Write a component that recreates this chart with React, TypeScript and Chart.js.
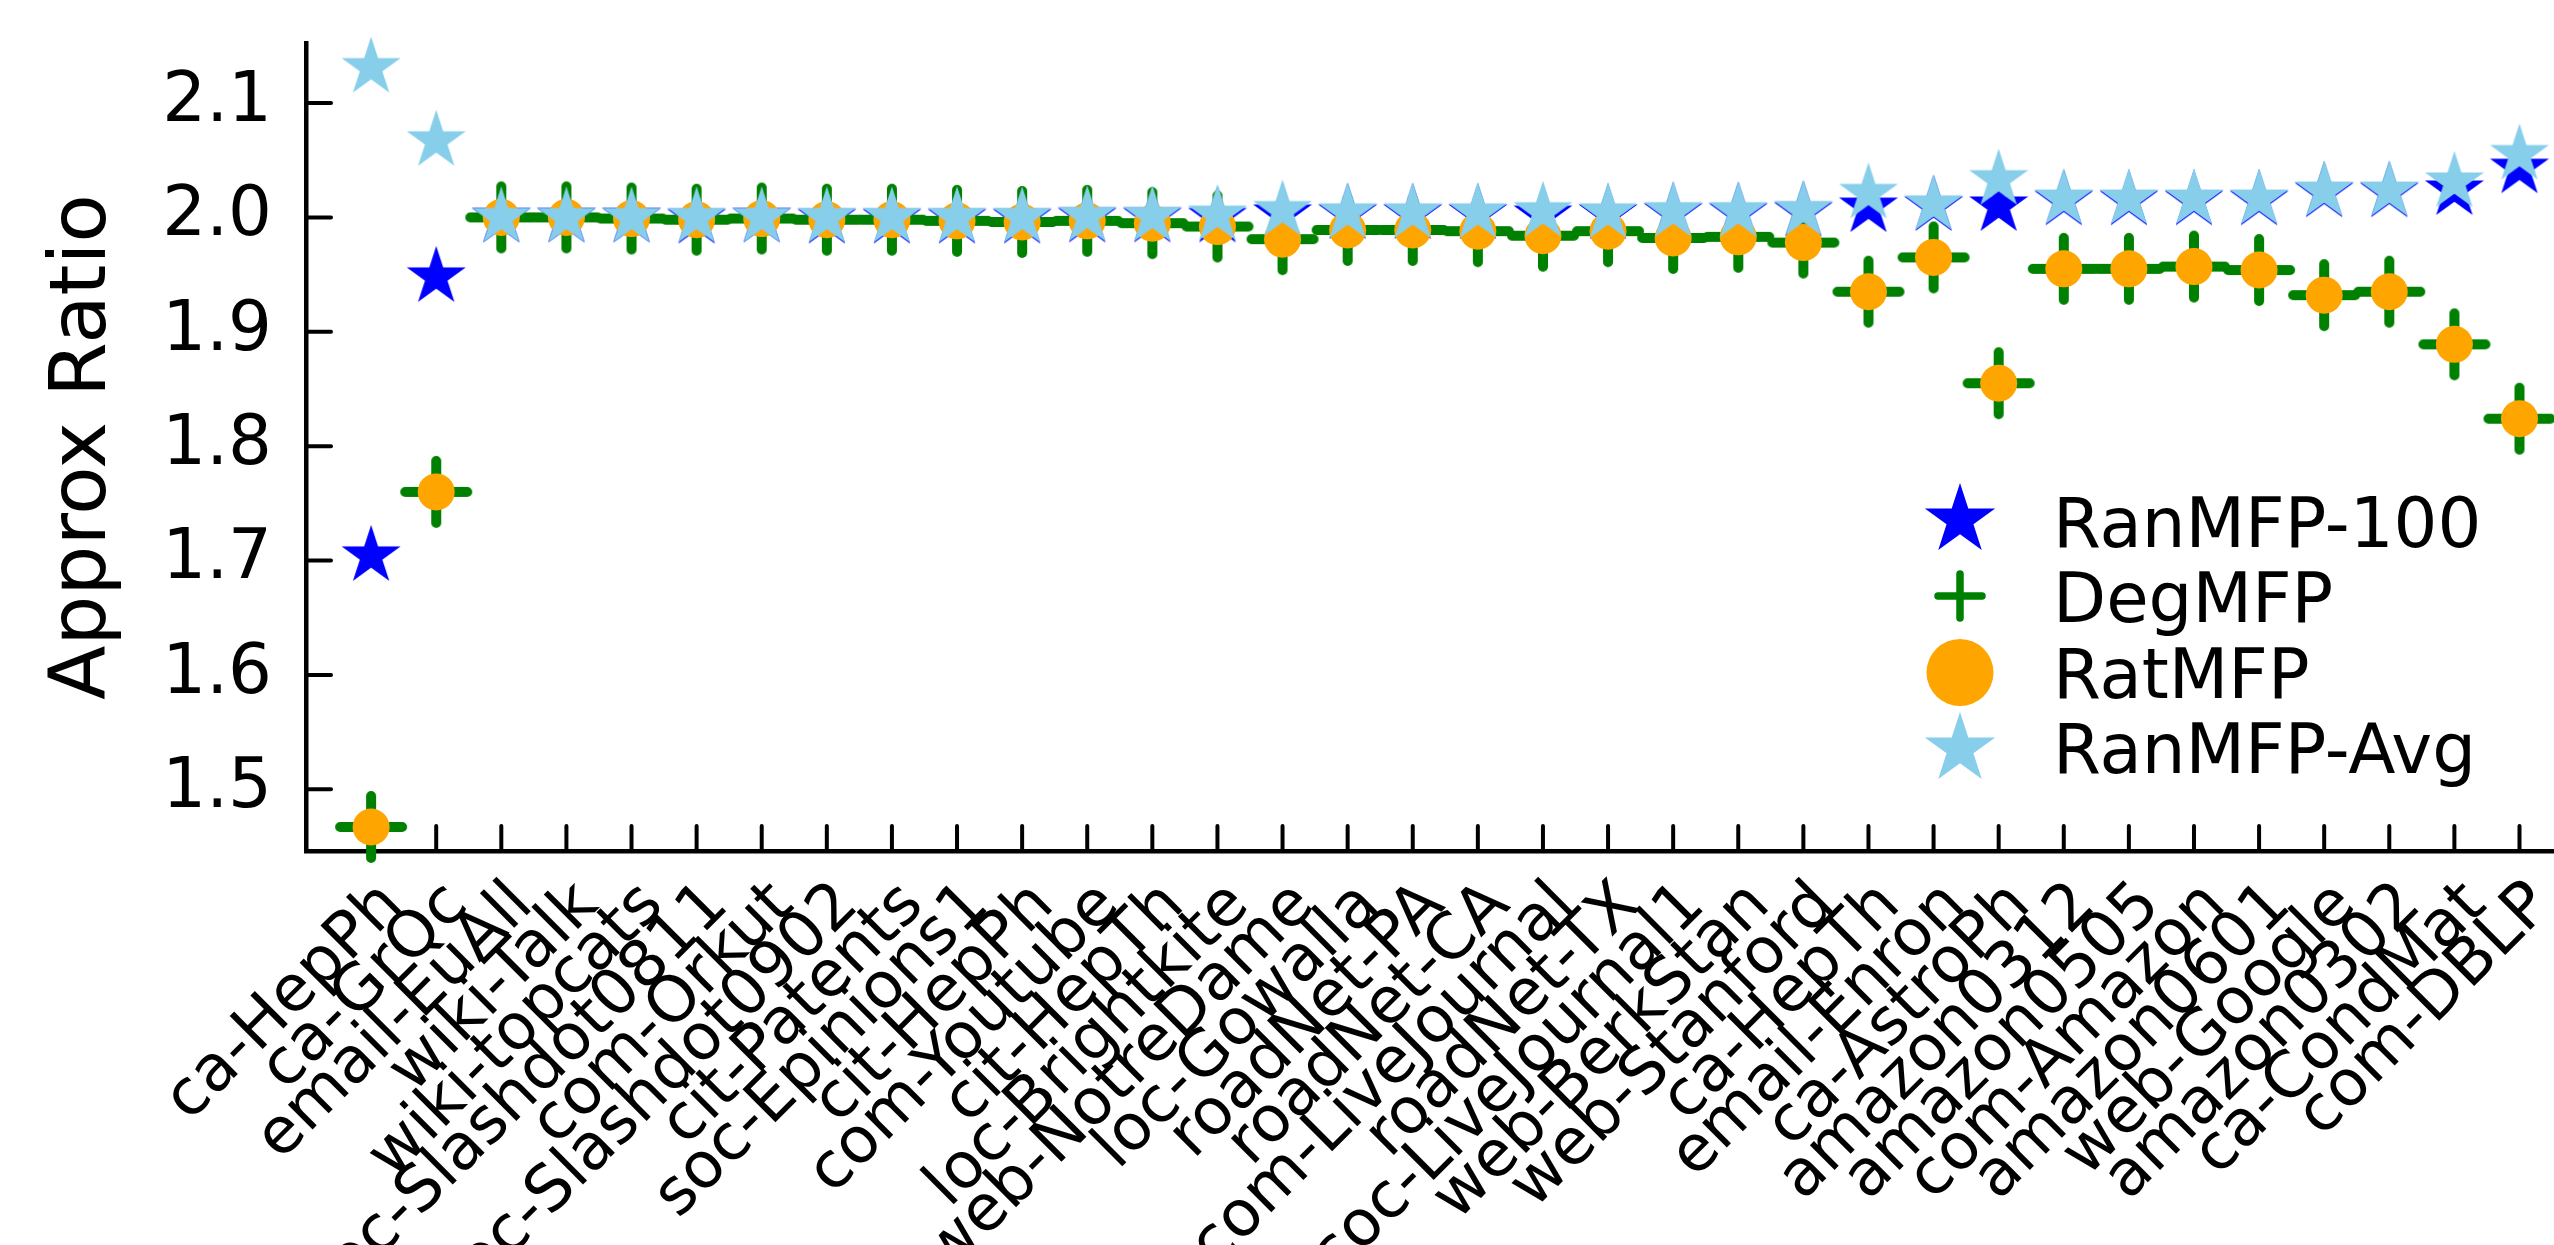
import React, { useEffect, useRef } from 'react';
import { Chart, registerables } from 'chart.js';

Chart.register(...registerables);

const categories = [
  'ca-HepPh', 'ca-GrQc', 'email-EuAll', 'wiki-Talk', 'wiki-topcats', 'soc-Slashdot0811',
  'com-Orkut', 'soc-Slashdot0902', 'cit-Patents', 'soc-Epinions1', 'cit-HepPh', 'com-Youtube',
  'cit-HepTh', 'loc-Brightkite', 'web-NotreDame', 'loc-Gowalla', 'roadNet-PA', 'roadNet-CA',
  'com-LiveJournal', 'roadNet-TX', 'soc-LiveJournal1', 'web-BerkStan', 'web-Stanford', 'ca-HepTh',
  'email-Enron', 'ca-AstroPh', 'amazon0312', 'amazon0505', 'com-Amazon', 'amazon0601',
  'web-Google', 'amazon0302', 'ca-CondMat', 'com-DBLP',
];

const ranMfp100 = [
  1.704, 1.948, 2.000, 2.000, 2.000, 1.999, 2.000, 1.999, 1.999, 1.999, 1.999, 2.000,
  2.000, 2.000, 2.003, 2.003, 2.003, 2.003, 2.002, 2.003, 2.004, 2.004, 2.005, 2.009,
  2.010, 2.010, 2.015, 2.015, 2.015, 2.015, 2.022, 2.022, 2.024, 2.043,
];

const degMfp = [
  1.467, 1.760, 2.000, 2.000, 1.999, 1.998, 1.999, 1.998, 1.998, 1.997, 1.996, 1.997,
  1.995, 1.992, 1.981, 1.989, 1.989, 1.988, 1.984, 1.988, 1.982, 1.983, 1.978, 1.935,
  1.965, 1.855, 1.955, 1.955, 1.957, 1.954, 1.932, 1.935, 1.889, 1.824,
];

const ratMfp = [
  1.467, 1.760, 2.000, 2.000, 1.999, 1.998, 1.999, 1.998, 1.998, 1.997, 1.996, 1.997,
  1.995, 1.992, 1.981, 1.989, 1.989, 1.988, 1.984, 1.988, 1.982, 1.983, 1.978, 1.935,
  1.965, 1.855, 1.955, 1.955, 1.957, 1.954, 1.932, 1.935, 1.889, 1.824,
];

const ranMfpAvg = [
  2.131, 2.067, 2.000, 2.000, 2.000, 2.000, 2.000, 2.000, 2.000, 2.000, 2.000, 2.001,
  2.001, 2.002, 2.006, 2.004, 2.004, 2.004, 2.005, 2.004, 2.005, 2.005, 2.006, 2.021,
  2.011, 2.033, 2.016, 2.016, 2.016, 2.016, 2.023, 2.023, 2.031, 2.055,
];

const yTickValues = [1.5, 1.6, 1.7, 1.8, 1.9, 2.0, 2.1];
const seriesNames = ['RanMFP-100', 'DegMFP', 'RatMFP', 'RanMFP-Avg'];

const BLUE = '#0000ff';
const GREEN = '#008000';
const ORANGE = '#ffa500';
const SKY = '#87ceeb';
const FONT = '"DejaVu Sans", "Liberation Sans", sans-serif';

function starPath(ctx: CanvasRenderingContext2D, cx: number, cy: number, R: number) {
  ctx.beginPath();
  for (let k = 0; k < 10; k++) {
    const a = -Math.PI / 2 + (k * Math.PI) / 5;
    const r = k % 2 === 0 ? R : R * 0.381966;
    const px = cx + r * Math.cos(a);
    const py = cy + r * Math.sin(a);
    if (k === 0) ctx.moveTo(px, py);
    else ctx.lineTo(px, py);
  }
  ctx.closePath();
}

function makeStar(R: number, color: string) {
  const size = Math.ceil(2 * R + 4);
  const c = document.createElement('canvas');
  c.width = size;
  c.height = size;
  const ctx = c.getContext('2d')!;
  ctx.fillStyle = color;
  starPath(ctx, size / 2, size / 2, R);
  ctx.fill();
  return c;
}

function plusPath(ctx: CanvasRenderingContext2D, cx: number, cy: number, half: number) {
  ctx.beginPath();
  ctx.moveTo(cx - half, cy);
  ctx.lineTo(cx + half, cy);
  ctx.moveTo(cx, cy - half);
  ctx.lineTo(cx, cy + half);
}

function makePlus(total: number, lw: number, color: string) {
  const size = Math.ceil(total + 4);
  const c = document.createElement('canvas');
  c.width = size;
  c.height = size;
  const ctx = c.getContext('2d')!;
  ctx.strokeStyle = color;
  ctx.lineWidth = lw;
  ctx.lineCap = 'round';
  plusPath(ctx, size / 2, size / 2, (total - lw) / 2);
  ctx.stroke();
  return c;
}

export default function App() {
  const ref = useRef<HTMLCanvasElement>(null);

  useEffect(() => {
    document.body.style.margin = '0';
    document.documentElement.style.overflow = 'hidden';
    const canvas = ref.current!;

    const blueStar = makeStar(31, BLUE);
    const skyStar = makeStar(31, SKY);
    const greenPlus = makePlus(72, 10, GREEN);

    const toPts = (arr: number[]) => arr.map((v, i) => ({ x: i, y: v }));

    const inwardTicks = {
      id: 'inwardTicks',
      beforeDatasetsDraw(chart: any) {
        const { ctx, chartArea, scales } = chart;
        ctx.save();
        ctx.strokeStyle = '#000';
        ctx.lineWidth = 4;
        ctx.lineCap = 'round';
        scales.x.ticks.forEach((t: any) => {
          const x = scales.x.getPixelForValue(t.value);
          ctx.beginPath();
          ctx.moveTo(x, chartArea.bottom);
          ctx.lineTo(x, chartArea.bottom - 25);
          ctx.stroke();
        });
        scales.y.ticks.forEach((t: any) => {
          const y = scales.y.getPixelForValue(t.value);
          ctx.beginPath();
          ctx.moveTo(chartArea.left, y);
          ctx.lineTo(chartArea.left + 25, y);
          ctx.stroke();
        });
        ctx.restore();
      },
    };

    const customLegend = {
      id: 'customLegend',
      afterDraw(chart: any) {
        const ctx = chart.ctx as CanvasRenderingContext2D;
        const mx = 1960;
        ctx.save();
        ctx.fillStyle = BLUE;
        starPath(ctx, mx, 520, 37);
        ctx.fill();
        ctx.strokeStyle = GREEN;
        ctx.lineWidth = 7.5;
        ctx.lineCap = 'round';
        plusPath(ctx, mx, 596, 22);
        ctx.stroke();
        ctx.fillStyle = ORANGE;
        ctx.beginPath();
        ctx.arc(mx, 672.5, 33.5, 0, Math.PI * 2);
        ctx.fill();
        ctx.fillStyle = SKY;
        starPath(ctx, mx, 749, 37);
        ctx.fill();
        ctx.fillStyle = '#000';
        ctx.font = `69px ${FONT}`;
        ctx.textAlign = 'left';
        ctx.textBaseline = 'alphabetic';
        const baselines = [547, 622, 698, 773];
        seriesNames.forEach((n, i) => ctx.fillText(n, 2053, baselines[i]));
        ctx.restore();
      },
    };

    const chart = new Chart(canvas, {
      type: 'scatter',
      data: {
        datasets: [
          {
            label: seriesNames[0],
            data: toPts(ranMfp100),
            pointStyle: blueStar as any,
            pointRadius: 31,
            order: 4,
            clip: false as any,
          },
          {
            label: seriesNames[1],
            data: toPts(degMfp),
            pointStyle: greenPlus as any,
            pointRadius: 36,
            order: 3,
            clip: false as any,
          },
          {
            label: seriesNames[2],
            data: toPts(ratMfp),
            pointStyle: 'circle',
            pointRadius: 18.5,
            backgroundColor: ORANGE,
            borderColor: ORANGE,
            borderWidth: 0,
            order: 2,
            clip: false as any,
          },
          {
            label: seriesNames[3],
            data: toPts(ranMfpAvg),
            pointStyle: skyStar as any,
            pointRadius: 31,
            order: 1,
            clip: false as any,
          },
        ],
      },
      options: {
        responsive: false,
        animation: false,
        events: [],
        devicePixelRatio: 1,
        layout: { autoPadding: false, padding: { top: 43, right: 0, bottom: 0, left: 0 } },
        plugins: {
          legend: { display: false },
          tooltip: { enabled: false },
        },
        scales: {
          x: {
            type: 'linear',
            min: -1,
            max: 33.53,
            afterBuildTicks: (scale: any) => {
              scale.ticks = categories.map((_, i) => ({ value: i }));
            },
            afterFit: (scale: any) => {
              scale.height = 394;
              scale.paddingLeft = 0;
              scale.paddingRight = 0;
            },
            grid: { display: false, drawTicks: false },
            border: { display: true, color: '#000', width: 4.5 },
            ticks: {
              autoSkip: false,
              minRotation: 45,
              maxRotation: 45,
              padding: 17,
              labelOffset: 22,
              color: '#000',
              font: { family: FONT, size: 64 },
              callback: (v: any) => categories[Math.round(Number(v))] ?? '',
            },
          },
          y: {
            type: 'linear',
            min: 1.446,
            max: 2.1525,
            afterBuildTicks: (scale: any) => {
              scale.ticks = yTickValues.map((v) => ({ value: v }));
            },
            afterFit: (scale: any) => {
              scale.width = 306;
              scale.paddingTop = 0;
              scale.paddingBottom = 0;
            },
            grid: { display: false, drawTicks: false },
            border: { display: true, color: '#000', width: 4.5 },
            title: {
              display: true,
              text: 'Approx Ratio',
              color: '#000',
              font: { family: FONT, size: 79 },
              padding: { top: 37, bottom: 0 },
            },
            ticks: {
              padding: 34,
              color: '#000',
              font: { family: FONT, size: 69 },
              callback: (v: any) => Number(v).toFixed(1),
            },
          },
        },
      },
      plugins: [inwardTicks, customLegend],
    });

    return () => chart.destroy();
  }, []);

  return (
    <canvas
      ref={ref}
      width={2554}
      height={1245}
      style={{ display: 'block', width: 2554, height: 1245 }}
    />
  );
}
